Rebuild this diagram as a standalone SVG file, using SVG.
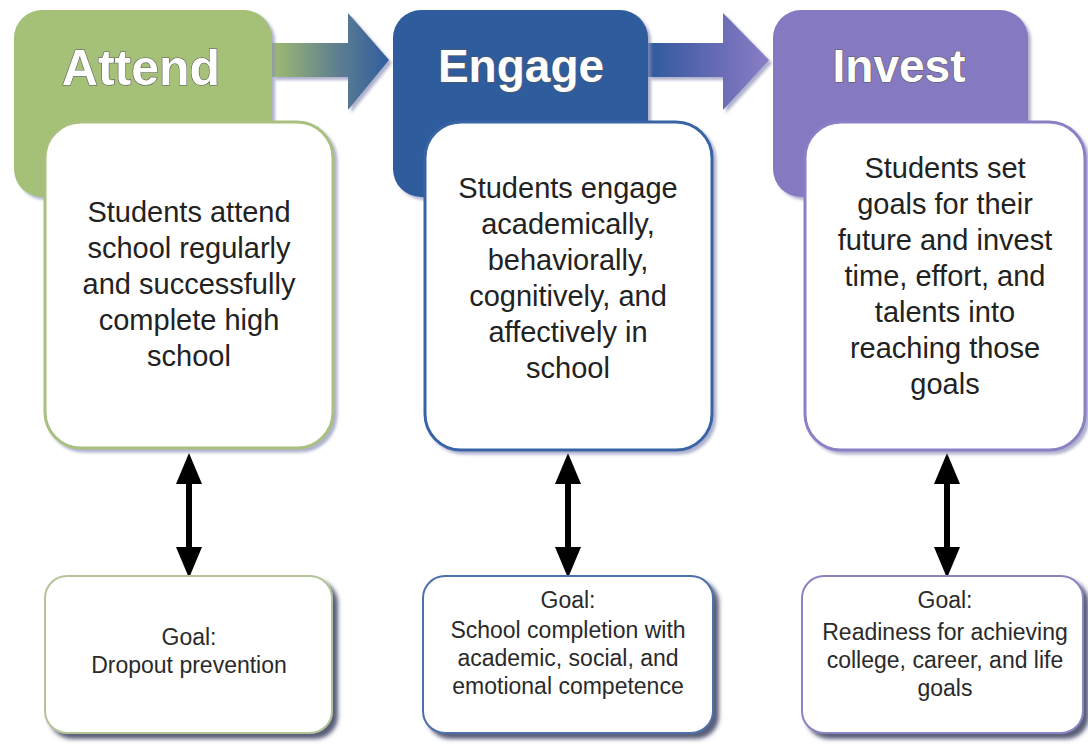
<svg xmlns="http://www.w3.org/2000/svg" width="1088" height="747" viewBox="0 0 1088 747">
<style>
  .title { font-family: "Liberation Sans", Arial, sans-serif; font-weight: bold; font-size: 46px; fill: #ffffff; stroke: #5a5a5a; stroke-width: 1.2; paint-order: stroke; text-anchor: middle; }
  .body { font-family: "Liberation Sans", Arial, sans-serif; font-size: 29px; fill: #222222; text-anchor: middle; }
  .goal { font-family: "Liberation Sans", Arial, sans-serif; font-size: 23px; fill: #2a2a2a; text-anchor: middle; }
  .card { fill: #ffffff; stroke-width: 3; }
  .goalbox { fill: #ffffff; stroke-width: 2; }
  .dbl { stroke: #000000; stroke-width: 6; fill: none; }
</style>
<defs>
  <filter id="softShadow" x="-10%" y="-10%" width="130%" height="130%">
    <feDropShadow dx="3" dy="3" stdDeviation="1.5" flood-color="#8c90b8" flood-opacity="0.7"/>
  </filter>
  <filter id="goalShadow" x="-10%" y="-10%" width="130%" height="130%">
    <feDropShadow dx="5" dy="5" stdDeviation="2" flood-color="#3c4262" flood-opacity="0.85"/>
  </filter>
  <linearGradient id="gradGB" x1="272" y1="0" x2="390" y2="0" gradientUnits="userSpaceOnUse">
    <stop offset="0" stop-color="#9fbb70"/>
    <stop offset="0.55" stop-color="#5f7f90"/>
    <stop offset="1" stop-color="#2f5c9e"/>
  </linearGradient>
  <linearGradient id="gradBP" x1="648" y1="0" x2="770" y2="0" gradientUnits="userSpaceOnUse">
    <stop offset="0" stop-color="#2f5a9c"/>
    <stop offset="0.6" stop-color="#6a6cb6"/>
    <stop offset="1" stop-color="#8a7fc6"/>
  </linearGradient>
</defs>

<g id="connectors">
  <polygon points="272,43 348,43 348,13 389,60 348,110 348,77 272,77" fill="url(#gradGB)" filter="url(#softShadow)"/>
  <polygon points="648,43 723,43 723,13 769,60 723,110 723,77 648,77" fill="url(#gradBP)" filter="url(#softShadow)"/>
  <line class="dbl" x1="189" y1="478" x2="189" y2="552"/>
  <path d="M176,484 L189,453 L202,484 Z M176,547 L189,578 L202,547 Z" fill="#000"/>
  <line class="dbl" x1="568" y1="478" x2="568" y2="552"/>
  <path d="M555,484 L568,453 L581,484 Z M555,547 L568,578 L581,547 Z" fill="#000"/>
  <line class="dbl" x1="947" y1="478" x2="947" y2="552"/>
  <path d="M934,484 L947,453 L960,484 Z M934,547 L947,578 L960,547 Z" fill="#000"/>
</g>

<g id="attend">
  <rect x="14" y="10" width="258" height="187" rx="28" fill="#a5c077" filter="url(#softShadow)"/>
  <text class="title" x="141" y="85" style="font-size:50px">Attend</text>
  <rect class="card" x="45" y="122" width="288" height="326" rx="36" stroke="#a9c07e" filter="url(#softShadow)"/>
  <text class="body" x="189" y="222">Students attend</text>
  <text class="body" x="189" y="258">school regularly</text>
  <text class="body" x="189" y="294">and successfully</text>
  <text class="body" x="189" y="330">complete high</text>
  <text class="body" x="189" y="366">school</text>
</g>

<g id="engage">
  <rect x="393" y="10" width="255" height="187" rx="28" fill="#2d5b9d" filter="url(#softShadow)"/>
  <text class="title" x="521" y="82">Engage</text>
  <rect class="card" x="425" y="122" width="287" height="328" rx="36" stroke="#3764a6" filter="url(#softShadow)"/>
  <text class="body" x="568" y="198">Students engage</text>
  <text class="body" x="568" y="234">academically,</text>
  <text class="body" x="568" y="270">behaviorally,</text>
  <text class="body" x="568" y="306">cognitively, and</text>
  <text class="body" x="568" y="342">affectively in</text>
  <text class="body" x="568" y="378">school</text>
</g>

<g id="invest">
  <rect x="773" y="10" width="255" height="187" rx="28" fill="#8579c2" filter="url(#softShadow)"/>
  <text class="title" x="899" y="82">Invest</text>
  <rect class="card" x="805" y="122" width="280" height="328" rx="36" stroke="#8a80c6" filter="url(#softShadow)"/>
  <text class="body" x="945" y="178">Students set</text>
  <text class="body" x="945" y="214">goals for their</text>
  <text class="body" x="945" y="250">future and invest</text>
  <text class="body" x="945" y="286">time, effort, and</text>
  <text class="body" x="945" y="322">talents into</text>
  <text class="body" x="945" y="358">reaching those</text>
  <text class="body" x="945" y="394">goals</text>
</g>

<g id="goal-attend">
  <rect class="goalbox" x="45" y="576" width="287" height="157" rx="22" stroke="#b4c39c" filter="url(#goalShadow)"/>
  <text class="goal" x="189" y="645">Goal:</text>
  <text class="goal" x="189" y="673">Dropout prevention</text>
</g>

<g id="goal-engage">
  <rect class="goalbox" x="423" y="576" width="290" height="157" rx="22" stroke="#4d70a8" filter="url(#goalShadow)"/>
  <text class="goal" x="568" y="608">Goal:</text>
  <text class="goal" x="568" y="638">School completion with</text>
  <text class="goal" x="568" y="666">academic, social, and</text>
  <text class="goal" x="568" y="694">emotional competence</text>
</g>

<g id="goal-invest">
  <rect class="goalbox" x="802" y="576" width="281" height="157" rx="22" stroke="#8a84c0" filter="url(#goalShadow)"/>
  <text class="goal" x="945" y="608">Goal:</text>
  <text class="goal" x="945" y="640">Readiness for achieving</text>
  <text class="goal" x="945" y="668">college, career, and life</text>
  <text class="goal" x="945" y="696">goals</text>
</g>
</svg>
